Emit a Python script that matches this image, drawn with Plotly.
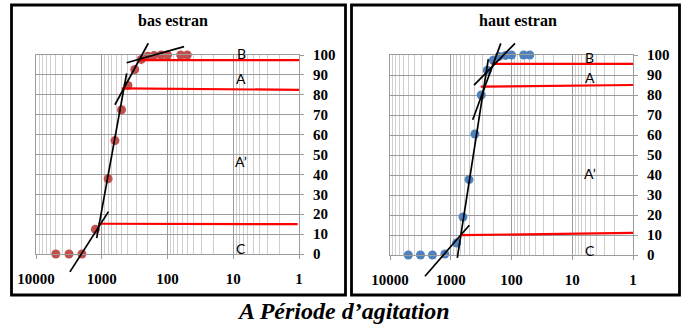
import numpy as np
import plotly.graph_objects as go

# Sieve openings (µm) and cumulative percentage retained
sieves = [5000, 3150, 2000, 1250, 800, 630, 500, 400, 315, 250, 200, 160, 125, 100, 63, 50]
bas_cum = [0, 0, 0, 12.4, 37.8, 57.0, 72.5, 84.7, 92.7, 97.8, 99.4, 99.8, 100, 100, 100, 100]
haut_cum = [0, 0, 0, 0.5, 6.0, 19.0, 37.7, 60.5, 80.0, 92.4, 97.4, 99.3, 99.8, 100, 100, 100]

# Hand-drawn tangent segments (x pairs in µm, y pairs in %)
bas_tan_x = [[3050, 790], [1195, 418], [630, 196], [418, 56]]
bas_tan_y = [[-9.0, 21.3], [8.0, 90.8], [75.0, 105.9], [96.1, 104.2]]
haut_tan_x = [[2655, 495], [780, 241], [435, 150], [414, 87.5]]
haut_tan_y = [[-10.6, 14.9], [-1.4, 97.9], [67.6, 105.8], [84.9, 105.8]]

# Population boundaries (red horizontal lines)
bas_lim_x = [[262, 1], [498, 1], [1130, 1.05]]
bas_lim_y = [[97.4, 97.4], [83.2, 82.5], [15.2, 15.0]]
haut_lim_x = [[212, 1], [321, 1], [686, 1]]
haut_lim_y = [[95.6, 95.6], [84.2, 85.0], [9.9, 11.1]]

# Population labels
pop_labels = ["B", "A", "A\u2019", "C"]
bas_lab_x = [7.6, 7.6, 7.6, 7.6]
bas_lab_y = [100.5, 88.0, 46.5, 3.0]
haut_lab_x = [5.2, 5.2, 5.2, 5.2]
haut_lab_y = [98.7, 88.7, 41.0, 2.4]

x_ticks = [1, 10, 100, 1000, 10000]
x_ticktext = ["1", "10", "100", "1000", "10000"]
panel_titles = ["bas estran", "haut estran"]
caption = "A P\u00e9riode d\u2019agitation"

W, H = 686, 328


def px_x(p):
    return p / W


def px_y(p):
    return 1 - p / H


SERIF = "Liberation Serif"
GRID = "#9c9c9c"
MINOR = "#cfcfcf"
minor_vals = [k * 10 ** d for d in range(4) for k in range(2, 10)]

fig = go.Figure()

panels = [
    dict(px=(36, 299), py=(55, 254), cum=bas_cum, color="#C0504D",
         tx=bas_tan_x, ty=bas_tan_y, lx=bas_lim_x, ly=bas_lim_y,
         labx=bas_lab_x, laby=bas_lab_y, title_x=173),
    dict(px=(390, 633), py=(55, 255), cum=haut_cum, color="#4F81BD",
         tx=haut_tan_x, ty=haut_tan_y, lx=haut_lim_x, ly=haut_lim_y,
         labx=haut_lab_x, laby=haut_lab_y, title_x=518),
]

EXT_TOP, EXT_BOT = 25, 290  # pixel extent of the unclipped overlay

for i, p in enumerate(panels):
    main_x = "x" if i == 0 else "x2"
    main_y = "y" if i == 0 else "y2"
    ov_x = "x3" if i == 0 else "x4"
    ov_y = "y3" if i == 0 else "y4"
    xdom = [px_x(p["px"][0]), px_x(p["px"][1])]
    ydom = [px_y(p["py"][1]), px_y(p["py"][0])]
    ppu = (p["py"][1] - p["py"][0]) / 100.0
    ext_range = [-(EXT_BOT - p["py"][1]) / ppu, 100 + (p["py"][0] - EXT_TOP) / ppu]
    ext_dom = [px_y(EXT_BOT), px_y(EXT_TOP)]

    fig.update_layout(**{
        ("xaxis" if i == 0 else "xaxis2"): dict(
            type="log", range=[4, 0], domain=xdom, anchor=main_y,
            tickmode="array", tickvals=x_ticks, ticktext=x_ticktext,
            showgrid=True, gridcolor=GRID, gridwidth=1,
            ticks="outside", ticklen=4, tickcolor=GRID,
            showline=True, linecolor=GRID, linewidth=1, mirror=True,
            minor=dict(tickvals=minor_vals, showgrid=True, gridcolor=MINOR, ticks=""),
            tickfont=dict(family=SERIF, size=15, color="black", weight="bold"),
            ticklabelstandoff=7, zeroline=False, fixedrange=True, automargin=False,
        ),
        ("yaxis" if i == 0 else "yaxis2"): dict(
            range=[0, 100], domain=ydom, anchor=main_x, side="right",
            tickmode="linear", tick0=0, dtick=10,
            showgrid=True, gridcolor=GRID, gridwidth=1,
            ticks="outside", ticklen=4, tickcolor=GRID,
            showline=True, linecolor=GRID, linewidth=1, mirror=True,
            tickfont=dict(family=SERIF, size=15, color="black", weight="bold"),
            ticklabelstandoff=6, zeroline=False, fixedrange=True, automargin=False,
        ),
        ("xaxis3" if i == 0 else "xaxis4"): dict(
            type="log", range=[4, 0], domain=xdom, anchor=ov_y, visible=False,
            showgrid=False, fixedrange=True, automargin=False,
        ),
        ("yaxis3" if i == 0 else "yaxis4"): dict(
            range=ext_range, domain=ext_dom, anchor=ov_x, visible=False,
            showgrid=False, fixedrange=True, automargin=False,
        ),
    })

    # sample points
    fig.add_trace(go.Scatter(
        x=sieves, y=p["cum"], mode="markers", xaxis=main_x, yaxis=main_y,
        marker=dict(size=9, color=p["color"]), cliponaxis=False, showlegend=False,
        hoverinfo="skip",
    ))
    # population boundaries
    for sx, sy in zip(p["lx"], p["ly"]):
        fig.add_trace(go.Scatter(
            x=sx, y=sy, mode="lines", xaxis=ov_x, yaxis=ov_y,
            line=dict(color="#FF0000", width=2.2), showlegend=False, hoverinfo="skip",
        ))
    # tangent segments
    for sx, sy in zip(p["tx"], p["ty"]):
        fig.add_trace(go.Scatter(
            x=sx, y=sy, mode="lines", xaxis=ov_x, yaxis=ov_y,
            line=dict(color="black", width=1.7), showlegend=False, hoverinfo="skip",
        ))
    # population labels
    for t, lx, ly in zip(pop_labels, p["labx"], p["laby"]):
        fig.add_annotation(
            x=np.log10(lx), y=ly, xref=ov_x, yref=ov_y, text=t, showarrow=False,
            xanchor="center", yanchor="middle",
            font=dict(family="Lato", size=14, color="black"),
        )
    # panel title
    fig.add_annotation(
        x=px_x(p["title_x"]), y=px_y(20), xref="paper", yref="paper",
        text=panel_titles[i], showarrow=False, xanchor="center", yanchor="middle",
        font=dict(family=SERIF, size=16, color="black", weight="bold"),
    )

# panel frames
for x0, x1 in [(11.5, 345.5), (351.5, 679.5)]:
    fig.add_shape(
        type="rect", xref="paper", yref="paper",
        x0=px_x(x0), x1=px_x(x1), y0=px_y(295), y1=px_y(5),
        line=dict(color="black", width=2.8), fillcolor="rgba(0,0,0,0)",
    )

fig.add_annotation(
    x=px_x(343), y=px_y(311), xref="paper", yref="paper", text=caption,
    showarrow=False, xanchor="center", yanchor="middle",
    font=dict(family=SERIF, size=24, color="black", weight="bold", style="italic"),
)

fig.update_layout(
    width=W, height=H, margin=dict(l=0, r=0, t=0, b=0, autoexpand=False),
    paper_bgcolor="white", plot_bgcolor="rgba(0,0,0,0)",
    showlegend=False,
)

fig.write_html("out.html")
